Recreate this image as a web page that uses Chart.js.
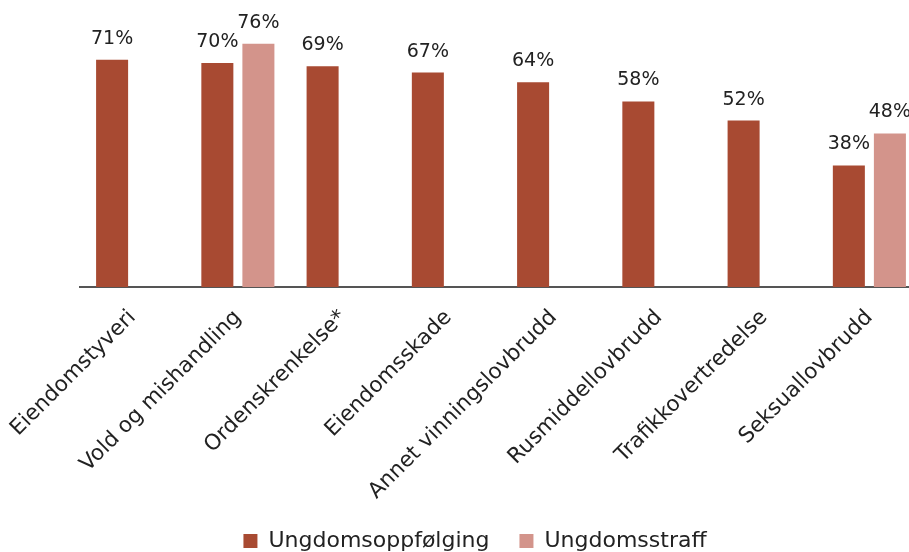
<!DOCTYPE html>
<html>
<head>
<meta charset="utf-8">
<script src="https://cdn.jsdelivr.net/npm/chart.js@4/dist/chart.umd.min.js"></script>
<style>
html,body{margin:0;padding:0;background:#fff;overflow:hidden;}
#wrap{position:absolute;left:0;top:0;width:950px;height:562px;}
</style>
</head>
<body>
<div id="wrap"><canvas id="c" width="950" height="562"></canvas></div>
<script>
const categories = ["Eiendomstyveri","Vold og mishandling","Ordenskrenkelse*","Eiendomsskade","Annet vinningslovbrudd","Rusmiddellovbrudd","Trafikkovertredelse","Seksuallovbrudd"];
const ungdomsoppfolging = [71,70,69,67,64,58,52,38];
const ungdomsstraff = [null,76,null,null,null,null,null,48];
const seriesNames = ["Ungdomsoppfølging","Ungdomsstraff"];

const FONT = "'DejaVu Sans', sans-serif";

const valueLabels = {
  id: 'valueLabels',
  afterDatasetsDraw(chart) {
    const ctx = chart.ctx;
    ctx.save();
    ctx.font = "19px " + FONT;
    ctx.fillStyle = "#222";
    ctx.textAlign = "center";
    ctx.textBaseline = "alphabetic";
    chart.data.datasets.forEach((ds, i) => {
      const meta = chart.getDatasetMeta(i);
      meta.data.forEach((bar, j) => {
        const v = ds.data[j];
        if (v === null || v === undefined) return;
        ctx.fillText(v + "%", bar.x, bar.y - 16);
      });
    });
    ctx.restore();
  }
};

new Chart(document.getElementById('c'), {
  type: 'bar',
  data: {
    labels: categories,
    datasets: [
      {label: seriesNames[0], data: ungdomsoppfolging, backgroundColor: '#A84A32'},
      {label: seriesNames[1], data: ungdomsstraff, backgroundColor: '#D3948B'}
    ]
  },
  options: {
    responsive: false,
    animation: false,
    devicePixelRatio: 1,
    layout: {padding: {left: 0, right: 0, top: 31, bottom: 0}},
    datasets: {bar: {categoryPercentage: 0.78, barPercentage: 0.78}},
    plugins: {
      tooltip: {enabled: false},
      legend: {
        position: 'bottom',
        labels: {
          font: {family: FONT, size: 22},
          color: '#222',
          boxWidth: 14,
          boxHeight: 14,
          padding: 30
        }
      }
    },
    scales: {
      x: {
        grid: {display: false, drawTicks: false},
        border: {display: true, color: '#555', width: 2},
        ticks: {
          font: {family: FONT, size: 21.5},
          color: '#222',
          minRotation: 45,
          maxRotation: 45,
          padding: 18
        },
        afterFit(scale) { scale.paddingLeft = 80; scale.paddingRight = 28; scale.height = 213; }
      },
      y: {
        display: false,
        min: 0,
        max: 80
      }
    }
  },
  plugins: [valueLabels]
});
</script>
</body>
</html>
